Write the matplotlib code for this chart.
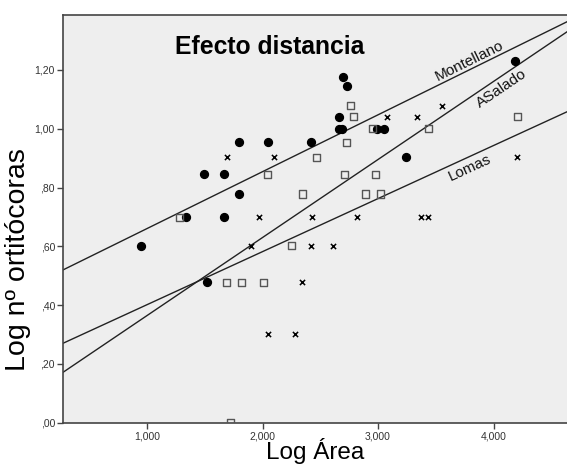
import numpy as np
import matplotlib.pyplot as plt

# Montellano (filled circles)
mont_x = [0.95, 1.34, 1.49, 1.52, 1.67, 1.67, 1.80, 1.80, 2.05, 2.42,
          2.66, 2.66, 2.69, 2.70, 2.73, 2.99, 3.05, 3.24, 4.19]
mont_y = [0.602, 0.699, 0.845, 0.477, 0.845, 0.699, 0.954, 0.778, 0.954, 0.954,
          1.041, 1.0, 1.0, 1.176, 1.146, 1.0, 1.0, 0.903, 1.23]

# ASalado (open squares)
asal_x = [1.28, 2.04, 2.35, 2.25, 1.69, 1.82, 2.01, 1.72, 2.76, 2.79,
          2.95, 3.44, 4.21, 2.73, 2.47, 2.71, 2.98, 2.89, 3.02]
asal_y = [0.699, 0.845, 0.778, 0.602, 0.477, 0.477, 0.477, 0.0, 1.079, 1.041,
          1.0, 1.0, 1.041, 0.954, 0.903, 0.845, 0.845, 0.778, 0.778]

# Lomas (crosses)
lom_x = [1.69, 2.10, 1.97, 1.90, 2.42, 2.61, 2.34, 2.05, 2.28, 3.08,
         3.34, 3.55, 4.20, 2.43, 2.82, 3.37, 3.43]
lom_y = [0.903, 0.903, 0.699, 0.602, 0.602, 0.602, 0.477, 0.301, 0.301, 1.041,
         1.041, 1.079, 0.903, 0.699, 0.699, 0.699, 0.699]

# fit lines: name, intercept, slope, label position
fit_names = ["Montellano", "ASalado", "Lomas"]
fit_icpt = [0.467, 0.099, 0.221]
fit_slope = [0.1935, 0.2655, 0.1805]
label_x = [3.79, 4.07, 3.79]
label_y = [1.230, 1.138, 0.868]

xticks = [1, 2, 3, 4]
xtick_labels = ["1,000", "2,000", "3,000", "4,000"]
yticks = [0, 0.2, 0.4, 0.6, 0.8, 1.0, 1.2]
ytick_labels = [",00", ",20", ",40", ",60", ",80", "1,00", "1,20"]

plt.rcParams['font.family'] = ['Liberation Sans', 'DejaVu Sans']

fig = plt.figure(figsize=(5.67, 4.68), dpi=100)
ax = fig.add_axes([0.1116, 0.0968, 0.8884, 0.8711])
ax.set_facecolor('#eeeeee')

xmin, xmax = 0.275, 4.636
ax.set_xlim(xmin, xmax)
ax.set_ylim(0, 1.387)

xs = np.array([xmin, xmax])
for b, m in zip(fit_icpt, fit_slope):
    ax.plot(xs, b + m * xs, color='#222222', lw=1.0, zorder=2)

ax.scatter(mont_x, mont_y, marker='o', s=32, color='black', zorder=3)
ax.scatter(asal_x, asal_y, marker='s', s=26, facecolor='none',
           edgecolor='#555555', linewidth=1.0, zorder=3)
ax.scatter(lom_x, lom_y, marker='x', s=14, color='black', linewidth=1.1, zorder=3)

fig.canvas.draw()
for name, b, m, tx, ty in zip(fit_names, fit_icpt, fit_slope, label_x, label_y):
    p1 = ax.transData.transform((1.0, b + m))
    p2 = ax.transData.transform((4.0, b + 4 * m))
    ang = np.degrees(np.arctan2(p2[1] - p1[1], p2[0] - p1[0]))
    ax.text(tx, ty, name, rotation=ang, ha='center', va='center',
            rotation_mode='anchor', fontsize=11, color='#111111')

ax.text(0.409, 0.922, "Efecto distancia", transform=ax.transAxes,
        ha='center', va='center', fontsize=17.8, fontweight='bold')

ax.set_xticks(xticks)
ax.set_xticklabels(xtick_labels)
ax.set_yticks(yticks)
ax.set_yticklabels(ytick_labels)
ax.tick_params(axis='both', direction='out', length=4, width=1.0,
               color='#444444', labelsize=7.5, labelcolor='#333333', pad=2)

for side in ['left', 'bottom', 'top']:
    ax.spines[side].set_color('#444444')
    ax.spines[side].set_linewidth(1.2)
ax.spines['right'].set_visible(False)

ax.set_xlabel("Log Área", fontsize=17.5, labelpad=-2)
ax.set_ylabel("Log nº ortitócoras", fontsize=20.5)
ax.yaxis.set_label_coords(-0.064, 0.40)

fig.savefig("out.png", dpi=100)
